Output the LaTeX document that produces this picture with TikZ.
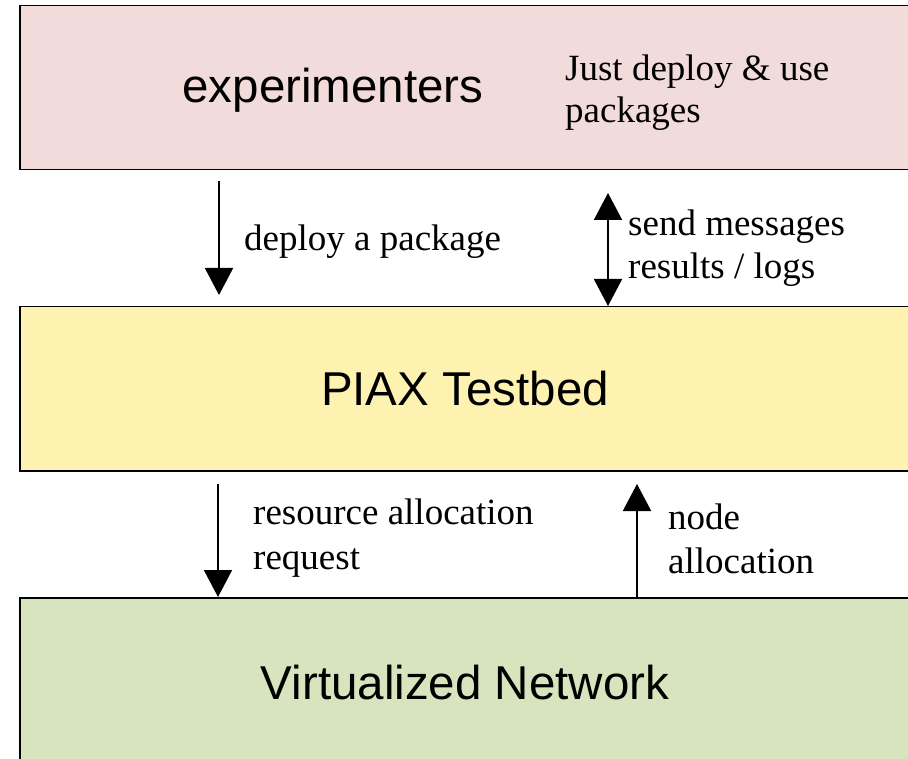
\documentclass[tikz,border=0pt]{standalone}
\usepackage{fontspec}
\setmainfont{Liberation Serif}
\newfontfamily\arialf{Liberation Sans}
\usetikzlibrary{arrows.meta}
\definecolor{pinkbox}{HTML}{F2DCDB}
\definecolor{yellowbox}{HTML}{FEF2B0}
\definecolor{greenbox}{HTML}{D7E4BD}
\tikzset{
  layer/.style={draw=black, line width=1.5pt, rectangle, anchor=north west,
    minimum width=900pt, minimum height=164pt, inner sep=0pt},
  bigtext/.style={font=\arialf\fontsize{47.5}{54}\selectfont, inner sep=0pt},
  lbl/.style={font=\fontsize{37}{43}\selectfont, inner sep=0pt, anchor=base west},
  arr/.style={line width=2pt, -{Triangle[width=28pt,length=27pt]}},
  darr/.style={line width=2pt, {Triangle[width=28pt,length=27pt]}-{Triangle[width=28pt,length=27pt]}}
}
\begin{document}
\begin{tikzpicture}[x=1pt,y=-1pt]
\clip (0,0) rectangle (908,759);
\fill[white] (0,0) rectangle (908,759);
\node[layer, fill=pinkbox] (top) at (19,5) {};
\node[layer, fill=yellowbox] (mid) at (19,306) {};
\node[layer, fill=greenbox, minimum height=180pt] (bot) at (19,597) {};

\node[bigtext, anchor=base] (exp) at (333,103) {experimenters};
\node[lbl] (just) at (565,81) {Just deploy \& use};
\node[lbl] (pkgs) at (565,123) {packages};
\node[bigtext] (piax) at (465,389) {PIAX Testbed};
\node[bigtext] (vn) at (465,683) {Virtualized Network};

\coordinate (a1s) at (219,181);
\coordinate (a2s) at (608,193);
\coordinate (a3s) at (218,484);
\coordinate (a4e) at (637,484);
\draw[arr] (a1s) -- ([yshift=11pt]a1s |- mid.north);
\draw[darr] (a2s) -- (a2s |- mid.north);
\draw[arr] (a3s) -- (a3s |- bot.north);
\draw[arr] (a4e |- bot.north) -- (a4e);

\node[lbl] (l1) at (244,251) {deploy a package};
\node[lbl] (l2a) at (628,236) {send messages};
\node[lbl] (l2b) at (628,279) {results / logs};
\node[lbl] (l3a) at (253,524) {resource allocation};
\node[lbl] (l3b) at (253,569) {request};
\node[lbl] (l4a) at (668,529) {node};
\node[lbl] (l4b) at (668,573) {allocation};
\end{tikzpicture}
\end{document}
